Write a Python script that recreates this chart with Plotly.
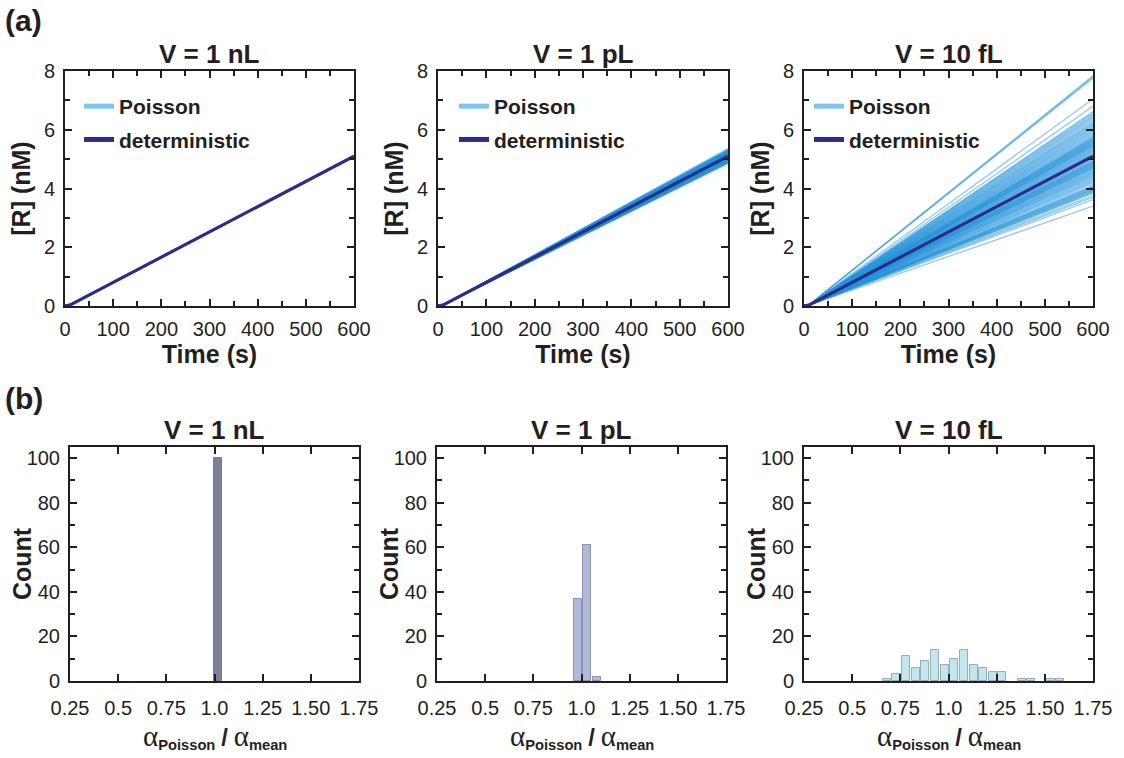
import plotly.graph_objects as go

# ---------------- data ----------------
panel_titles = ["V = 1 nL", "V = 1 pL", "V = 10 fL"]

time_s = [0, 10, 600]
det_R_nM = [0, 0.03, 5.10]

# end-point concentration (nM) at t = 600 s of each Poisson trajectory
poisson_end_1nL = [5.08, 5.09, 5.09, 5.10, 5.10, 5.10, 5.11, 5.11, 5.12, 5.12]
poisson_end_1pL = [
    4.86, 4.87, 4.88, 4.89, 4.90, 4.91, 4.92, 4.92, 4.93, 4.94, 4.94, 4.95, 4.96,
    4.96, 4.97, 4.97, 4.98, 4.98, 4.99, 4.99, 5.00, 5.00, 5.01, 5.01, 5.02, 5.02,
    5.03, 5.03, 5.04, 5.04, 5.05, 5.05, 5.06, 5.06, 5.07, 5.08, 5.09,
    5.10, 5.10, 5.10, 5.11, 5.11, 5.11, 5.12, 5.12, 5.12, 5.13, 5.13, 5.13,
    5.14, 5.14, 5.14, 5.15, 5.15, 5.15, 5.16, 5.16, 5.16, 5.17, 5.17, 5.17,
    5.18, 5.18, 5.18, 5.19, 5.19, 5.19, 5.20, 5.20, 5.20, 5.21, 5.21, 5.21,
    5.22, 5.22, 5.22, 5.23, 5.23, 5.23, 5.24, 5.24, 5.24, 5.25, 5.25, 5.25,
    5.26, 5.26, 5.26, 5.27, 5.27, 5.27, 5.28, 5.28, 5.28, 5.29, 5.29, 5.30,
    5.30, 5.33, 5.36,
]
poisson_end_10fL = [
    3.40, 3.62, 3.70, 3.76,
    3.84, 3.87, 3.90, 3.93, 3.95, 3.97, 4.00, 4.02, 4.05, 4.07, 4.10,
    4.15, 4.20, 4.24, 4.28, 4.32, 4.36,
    4.40, 4.43, 4.46, 4.49, 4.52, 4.55, 4.58, 4.61, 4.65,
    4.68, 4.70, 4.72, 4.74, 4.76, 4.78, 4.80, 4.82, 4.84, 4.86, 4.88, 4.90, 4.92, 4.94,
    4.97, 5.00, 5.03, 5.06, 5.09, 5.12, 5.15,
    5.18, 5.21, 5.24, 5.27, 5.30, 5.33, 5.36, 5.39, 5.42, 5.45,
    5.47, 5.49, 5.51, 5.53, 5.55, 5.57, 5.59, 5.61, 5.63, 5.65, 5.67, 5.69, 5.71, 5.73,
    5.76, 5.80, 5.84, 5.88, 5.92, 5.96, 6.00,
    6.04, 6.08, 6.12, 6.16, 6.20, 6.24,
    6.28, 6.33, 6.38, 6.43,
    6.48, 6.53, 6.58, 6.62,
    6.80, 7.05, 7.76, 7.80, 7.84,
]

# histograms of alpha_Poisson / alpha_mean
hist_x_1nL = [1.02]
hist_n_1nL = [100]
hist_x_1pL = [0.98, 1.03, 1.08]
hist_n_1pL = [37, 61, 2]
hist_x_10fL = [0.68, 0.73, 0.78, 0.83, 0.88, 0.93, 0.98, 1.03, 1.08, 1.13, 1.18,
               1.23, 1.28, 1.38, 1.43, 1.53, 1.58]
hist_n_10fL = [1, 3, 11, 6, 9, 14, 7, 10, 14, 7, 6, 4, 4, 1, 1, 1, 1]

x_tickvals_b = [0.25, 0.5, 0.75, 1.0, 1.25, 1.5, 1.75]
x_ticktext_b = ["0.25", "0.5", "0.75", "1.0", "1.25", "1.50", "1.75"]

# ---------------- style ----------------
FONT = "Liberation Sans, Arial, sans-serif"
INK = "#231f20"
W, H = 1124, 758
POIS_LINE = "rgba(40,150,220,0.5)"
POIS_LEG = "#7fc6ee"
DET = "#2b2d8a"
bar_fill = ["#7f7f9d", "#b1b8d9", "#c1e6ef"]
bar_edge = ["#77778f", "#8d93ab", "#98adb3"]

top_px = [(65, 354), (438, 728), (804, 1093)]
bot_px = [(70, 359), (437, 726), (804, 1093)]
top_y_px = (71, 306)
bot_y_px = (447, 681)


def xd(p):
    return [p[0] / W, p[1] / W]


def yd(p):
    return [1 - p[1] / H, 1 - p[0] / H]


fig = go.Figure()

ends = [poisson_end_1nL, poisson_end_1pL, poisson_end_10fL]
for i in range(3):
    ax = "" if i == 0 else str(i + 1)
    leg = "legend" if i == 0 else "legend" + str(i + 1)
    for e in ends[i]:
        fig.add_trace(go.Scatter(
            x=time_s, y=det_R_nM[:2] + [e], mode="lines",
            line=dict(color=POIS_LINE, width=1.3), showlegend=False,
            hoverinfo="skip", xaxis="x" + ax, yaxis="y" + ax))
    fig.add_trace(go.Scatter(
        x=time_s, y=det_R_nM, mode="lines", line=dict(color=DET, width=3.2),
        showlegend=False, xaxis="x" + ax, yaxis="y" + ax))
    fig.add_trace(go.Scatter(
        x=[None], y=[None], mode="lines", name="<b>Poisson</b>",
        line=dict(color=POIS_LEG, width=5), legend=leg, legendgroup="p",
        xaxis="x" + ax, yaxis="y" + ax))
    fig.add_trace(go.Scatter(
        x=[None], y=[None], mode="lines", name="<b>deterministic</b>",
        line=dict(color=DET, width=5), legend=leg, legendgroup="d",
        xaxis="x" + ax, yaxis="y" + ax))

hx = [hist_x_1nL, hist_x_1pL, hist_x_10fL]
hn = [hist_n_1nL, hist_n_1pL, hist_n_10fL]
for i in range(3):
    ax = str(i + 4)
    fig.add_trace(go.Bar(
        x=hx[i], y=hn[i], width=0.042,
        marker=dict(color=bar_fill[i], line=dict(color=bar_edge[i], width=1)),
        showlegend=False, xaxis="x" + ax, yaxis="y" + ax))

axis_common = dict(
    showline=True, linecolor=INK, linewidth=2, mirror="ticks", ticks="inside",
    tickcolor=INK, tickwidth=2, ticklen=7, showgrid=False, zeroline=False,
    tickfont=dict(family=FONT, size=20, color=INK), automargin=False,
)

layout = dict(
    width=W, height=H, margin=dict(l=0, r=0, t=0, b=0),
    paper_bgcolor="white", plot_bgcolor="white", bargap=0,
    font=dict(family=FONT, color=INK), annotations=[],
)

alpha = '<span style="font-family:Liberation Serif;font-size:29px">α</span>'
x_title_b = (alpha + "<sub><b>Poisson</b></sub> "
             + '<span style="font-size:24px"><b>/</b></span> '
             + alpha + "<sub><b>mean</b></sub>")


def ann(text, xpx, ypx, size, angle=0):
    return dict(text=text, x=xpx / W, y=1 - ypx / H, xref="paper", yref="paper",
                showarrow=False, xanchor="center", yanchor="middle", textangle=angle,
                font=dict(family=FONT, size=size, color=INK))


for i in range(3):
    k = i + 1
    kk = "" if k == 1 else str(k)
    layout["xaxis" + kk] = dict(
        axis_common, domain=xd(top_px[i]), anchor="y" + kk, range=[0, 600],
        dtick=100, tick0=0, ticklabelstandoff=4,
        minor=dict(dtick=50, ticks="inside", ticklen=5, tickcolor=INK, tickwidth=2),
        title=dict(text="<b>Time (s)</b>", font=dict(family=FONT, size=25, color=INK), standoff=4))
    layout["yaxis" + kk] = dict(
        axis_common, domain=yd(top_y_px), anchor="x" + kk, range=[0, 8],
        dtick=2, tick0=0, ticklabelstandoff=4,
        minor=dict(dtick=1, ticks="inside", ticklen=5, tickcolor=INK, tickwidth=2),
        title=dict(text="<b>[R] (nM)</b>", font=dict(family=FONT, size=25, color=INK), standoff=6))
    b = str(k + 3)
    layout["xaxis" + b] = dict(
        axis_common, domain=xd(bot_px[i]), anchor="y" + b, range=[0.25, 1.75],
        tickvals=x_tickvals_b, ticktext=x_ticktext_b, ticklabelstandoff=8)
    layout["yaxis" + b] = dict(
        axis_common, domain=yd(bot_y_px), anchor="x" + b, range=[0, 105],
        dtick=20, tick0=0, ticklabelstandoff=4,
        minor=dict(dtick=10, ticks="inside", ticklen=5, tickcolor=INK, tickwidth=2))
    # bottom-row axis titles
    cxb_px = (bot_px[i][0] + bot_px[i][1]) / 2
    layout["annotations"].append(ann(x_title_b, cxb_px, 736, 21))
    layout["annotations"].append(ann("<b>Count</b>", bot_px[i][0] - 48, (bot_y_px[0] + bot_y_px[1]) / 2, 25, -90))
    # subplot titles
    cx_px = (top_px[i][0] + top_px[i][1]) / 2
    layout["annotations"].append(ann("<b>" + panel_titles[i] + "</b>", cx_px, 54, 26))
    layout["annotations"].append(ann("<b>" + panel_titles[i] + "</b>", cxb_px, 430, 26))
    leg = "legend" if i == 0 else "legend" + str(k)
    lx = [79, 454, 809][i]
    layout[leg] = dict(
        x=lx / W, y=1 - 86 / H, xanchor="left", yanchor="top",
        bgcolor="rgba(0,0,0,0)", font=dict(family=FONT, size=21, color=INK),
        tracegroupgap=3, itemwidth=30, traceorder="grouped")

for txt, yy in [("(a)", 20), ("(b)", 398)]:
    a = ann("<b>" + txt + "</b>", 3, yy, 30)
    a["x"] = 3 / W
    a["xanchor"] = "left"
    layout["annotations"].append(a)

fig.update_layout(**layout)
fig.write_html("out.html")
